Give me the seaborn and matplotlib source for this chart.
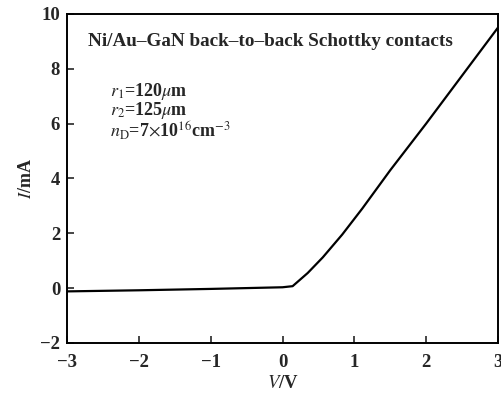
import matplotlib
matplotlib.use("Agg")
import matplotlib.pyplot as plt
import seaborn as sns
import pandas as pd

# I-V curve
voltage = [-3.0, -2.0, -1.0, 0.0, 0.14, 0.35, 0.56, 0.83, 1.11, 1.5, 2.0, 2.5, 3.0]
current = [-0.12, -0.08, -0.03, 0.03, 0.07, 0.55, 1.12, 1.95, 2.9, 4.3, 6.0, 7.75, 9.5]
x_ticks = [-3, -2, -1, 0, 1, 2, 3]
y_ticks = [-2, 0, 2, 4, 6, 8, 10]

df = pd.DataFrame({"V": voltage, "I": current})

sns.set_style("ticks")
plt.rcParams["font.family"] = ["Liberation Serif", "DejaVu Serif"]
plt.rcParams["mathtext.fontset"] = "stix"

fig = plt.figure(figsize=(5.01, 3.96), dpi=100)
ax = fig.add_axes([0.134, 0.134, 0.860, 0.831])

sns.lineplot(data=df, x="V", y="I", color="black", linewidth=1.6, ax=ax)

ax.set_xlim(-3, 3)
ax.set_ylim(-2, 10)
ax.set_xticks(x_ticks)
ax.set_yticks(y_ticks)
ax.set_xticklabels([str(t).replace("-", "\u2212") for t in x_ticks], fontsize=13.5, fontweight="bold")
ax.set_yticklabels([str(t).replace("-", "\u2212") for t in y_ticks], fontsize=13.5, fontweight="bold")
ax.tick_params(direction="in", length=5, width=1.2)
ax.tick_params(axis="x", pad=8)
ax.tick_params(axis="y", pad=5)
for s in ax.spines.values():
    s.set_linewidth(1.4)
    s.set_color("black")

ax.set_xlabel(r"$V$/V", fontsize=13.5, fontweight="bold", labelpad=3)
ax.set_ylabel(r"$I$/mA", fontsize=13, fontweight="bold", labelpad=4)

fs = 13
ax.text(0.049, 0.915, "Ni/Au\u2013GaN back\u2013to\u2013back Schottky contacts",
        transform=ax.transAxes, fontsize=13.8, fontweight="bold", va="center")
ax.text(0.1, 0.765, r"$r_1$=120$\mu$m", transform=ax.transAxes, fontsize=fs, fontweight="bold", va="center")
ax.text(0.1, 0.705, r"$r_2$=125$\mu$m", transform=ax.transAxes, fontsize=fs, fontweight="bold", va="center")
ax.text(0.1, 0.645, r"$n_{\rm D}$=7$\times$10$^{16}$cm$^{-3}$", transform=ax.transAxes, fontsize=fs, fontweight="bold", va="center")

fig.savefig("out.png", dpi=100)
